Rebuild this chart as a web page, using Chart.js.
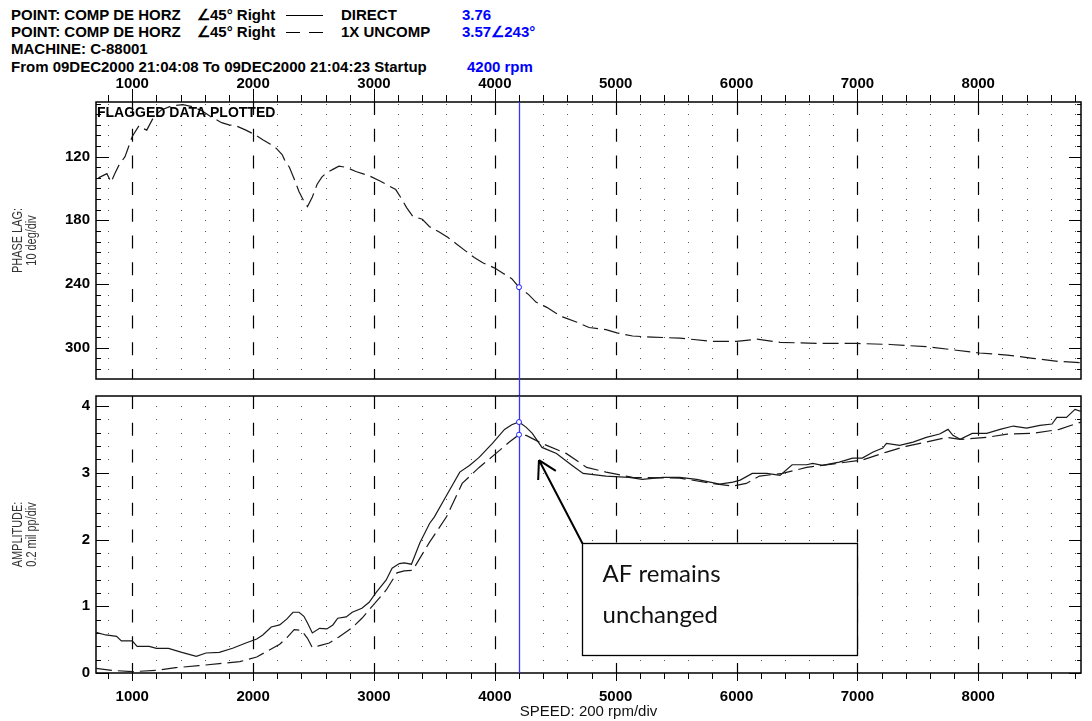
<!DOCTYPE html>
<html>
<head>
<meta charset="utf-8">
<script src="https://cdn.jsdelivr.net/npm/chart.js@4.4.1/dist/chart.umd.min.js"></script>
<style>
body{margin:0;background:#fff;width:1092px;height:721px;overflow:hidden;position:relative;font:bold 15px 'Liberation Sans',Arial,sans-serif;color:#000}
.t{position:absolute;white-space:nowrap;line-height:16px}
.blue{color:#0000ff}
.ln{position:absolute;height:0;border-top:1px solid #000}
canvas{position:absolute;left:0}
</style>
</head>
<body>
<div class="t" style="left:11px;top:7px">POINT: COMP DE HORZ</div>
<div class="t" style="left:197px;top:7px">∠45° Right</div>
<div class="ln" style="left:286px;top:15px;width:37px"></div>
<div class="t" style="left:341px;top:7px">DIRECT</div>
<div class="t blue" style="left:462px;top:7px">3.76</div>

<div class="t" style="left:11px;top:23.5px">POINT: COMP DE HORZ</div>
<div class="t" style="left:197px;top:23.5px">∠45° Right</div>
<div class="ln" style="left:286px;top:32px;width:14px"></div>
<div class="ln" style="left:309px;top:32px;width:14px"></div>
<div class="t" style="left:341px;top:23.5px">1X UNCOMP</div>
<div class="t blue" style="left:462px;top:23.5px">3.57∠243°</div>

<div class="t" style="left:11px;top:41px">MACHINE: C-88001</div>
<div class="t" style="left:11px;top:58.5px">From 09DEC2000 21:04:08 To 09DEC2000 21:04:23 Startup</div>
<div class="t blue" style="left:467px;top:58.5px">4200 rpm</div>

<canvas id="phase" width="1092" height="330" style="top:72px"></canvas>
<canvas id="amp" width="1092" height="341" style="top:380px"></canvas>

<script>
// run-up data, speed in rpm
const phaseRpm = [720,790,825,860,890,940,1000,1055,1080,1120,1180,1240,1330,1420,1500,1580,1660,1740,1800,1860,1940,2010,2080,2140,2190,2240,2260,2300,2340,2380,2420,2450,2490,2530,2570,2610,2660,2710,2770,2850,2960,3050,3100,3180,3230,3270,3320,3400,3460,3540,3610,3680,3760,3830,3900,4000,4070,4140,4200,4280,4340,4430,4500,4560,4680,4780,4920,5010,5140,5300,5530,5800,6000,6170,6360,6710,7000,7270,7410,7570,7790,8010,8240,8450,8670,8840];
const phaseLag = [140,136,144,135,128,120,101,91,93,95,82,76,72,71,73,77,83,88,90,91,95,99,104,108,112,118,123,130,141,153,162,167,158,146,139,135,132,129,130,134,138,143,146,151,160,168,176,179,186,191,196,202,209,215,220,225,230,235,243,250,257,262,267,271,276,281,283,286,289,290,291,294,294,292,295,296,296,297,298,299,302,305,307,310,313,314];

const directRpm = [700,780,870,910,1000,1040,1140,1200,1300,1410,1530,1610,1720,1830,1940,2030,2080,2150,2220,2280,2330,2380,2420,2450,2490,2550,2610,2660,2700,2770,2820,2900,2960,3020,3100,3150,3210,3250,3310,3380,3460,3500,3600,3710,3790,3870,3980,4080,4140,4200,4260,4310,4390,4510,4640,4730,4920,5110,5220,5390,5530,5670,5860,5970,6030,6130,6250,6360,6460,6580,6630,6710,6850,6960,7040,7130,7210,7240,7350,7460,7570,7680,7750,7790,7850,7950,8070,8180,8290,8400,8510,8610,8650,8730,8800,8850];
const directAmp = [0.61,0.57,0.55,0.48,0.48,0.40,0.40,0.37,0.37,0.31,0.25,0.30,0.31,0.37,0.45,0.51,0.57,0.69,0.72,0.81,0.91,0.91,0.85,0.75,0.60,0.67,0.66,0.72,0.82,0.84,0.91,0.97,1.06,1.21,1.39,1.57,1.64,1.65,1.63,1.95,2.24,2.34,2.66,3.01,3.11,3.23,3.44,3.65,3.72,3.76,3.68,3.59,3.38,3.29,3.11,2.99,2.95,2.93,2.90,2.93,2.93,2.90,2.83,2.86,2.89,2.99,2.99,2.96,3.12,3.12,3.14,3.11,3.16,3.22,3.22,3.31,3.37,3.44,3.41,3.46,3.53,3.58,3.65,3.56,3.50,3.59,3.59,3.65,3.70,3.67,3.71,3.73,3.83,3.83,3.95,3.92];

const uncompRpm = [700,830,1000,1200,1360,1550,1720,1890,2030,2130,2220,2280,2340,2400,2450,2490,2550,2630,2710,2820,2900,2990,3100,3190,3250,3320,3460,3600,3730,3870,4010,4120,4200,4260,4390,4590,4760,4920,5140,5530,5800,5970,6080,6190,6380,6580,6830,7040,7240,7410,7570,7740,7850,8070,8240,8450,8670,8850];
const uncompAmp = [0.07,0.04,0.02,0.04,0.08,0.11,0.14,0.17,0.24,0.34,0.43,0.53,0.65,0.64,0.52,0.38,0.41,0.45,0.54,0.68,0.82,1.01,1.24,1.50,1.53,1.54,1.96,2.34,2.84,3.08,3.29,3.46,3.57,3.56,3.44,3.29,3.08,3.01,2.93,2.92,2.84,2.80,2.84,2.95,2.99,3.08,3.14,3.19,3.31,3.40,3.46,3.53,3.50,3.53,3.58,3.59,3.65,3.76];

const speedTicks = [1000,2000,3000,4000,5000,6000,7000,8000];
const phaseTicks = [120,180,240,300];
const ampTicks = [0,1,2,3,4];
const cursorRpm = 4200;

// callout: box corners (rpm, amp) and arrow tip
const noteBox = [4725, 7000, 1.95, 0.27];
const noteTip = [4365, 3.19];

const tickFont = {family: "'Liberation Sans', Arial, sans-serif", size: 15, weight: 'bold'};

function pts(xs, ys) { return xs.map((x, i) => ({x: x, y: ys[i]})); }

function trace(label, data, dashed) {
  return {
    label: label, data: data, borderColor: '#1a1a1a', borderWidth: 1.2,
    borderDash: dashed ? [16, 6] : [], tension: 0, fill: false,
    pointRadius: c => (c.raw && c.raw.x === cursorRpm ? 2.5 : 0),
    pointBorderColor: '#2020ff', pointBackgroundColor: '#fff', pointBorderWidth: 1, pointHoverRadius: 0
  };
}

function speedAxis(position, height, pad, title) {
  return {
    type: 'linear', position: position, min: 700, max: 8850,
    afterBuildTicks: s => { s.ticks = speedTicks.map(v => ({value: v})); },
    afterFit: s => { s.height = height; },
    grid: {display: false, drawTicks: false}, border: {display: false},
    ticks: {font: tickFont, color: '#000', padding: pad, maxRotation: 0, autoSkip: false, callback: v => String(v)},
    title: title ? {display: true, text: title, color: '#111', padding: 0,
      font: {family: "'Liberation Sans', Arial, sans-serif", size: 15}} : {display: false}
  };
}

function valueAxis(min, max, reverse, ticks) {
  return {
    type: 'linear', min: min, max: max, reverse: reverse,
    afterBuildTicks: s => { s.ticks = ticks.map(v => ({value: v})); },
    afterFit: s => { s.width = 96; },
    grid: {display: false, drawTicks: false}, border: {display: false},
    ticks: {font: tickFont, color: '#000', padding: 6, callback: v => String(v)}
  };
}

// frame, dotted grid, 1000 rpm dashed lines, tick marks, speed cursor, side title
const frame = {
  id: 'frame',
  beforeDatasetsDraw(chart, args, o) {
    const ctx = chart.ctx, a = chart.chartArea, x = chart.scales.x, y = chart.scales.y;
    const first = Math.ceil(y.min / o.yStep - 1e-6);
    const rows = [];
    for (let i = first; i * o.yStep < y.max - 1e-6; i++) rows.push(i * o.yStep);

    ctx.save();
    ctx.fillStyle = '#555';
    rows.forEach(v => {
      const py = Math.round(y.getPixelForValue(v));
      if (py <= a.top + 1 || py >= a.bottom - 1) return;
      for (let r = 800; r < x.max; r += 200) {
        if (r % 1000 === 0) continue;
        ctx.fillRect(Math.round(x.getPixelForValue(r)), py, 1, 1);
      }
    });
    ctx.strokeStyle = '#000';
    ctx.lineWidth = 1.2;
    ctx.setLineDash([13, 13.7]);
    ctx.beginPath();
    speedTicks.forEach(r => {
      const px = Math.round(x.getPixelForValue(r)) + 0.5;
      ctx.moveTo(px, a.top); ctx.lineTo(px, a.bottom);
    });
    ctx.stroke();
    ctx.setLineDash([]);

    ctx.lineWidth = 1;
    ctx.beginPath();
    rows.forEach(v => {
      const major = o.majors.some(m => Math.abs(m - v) < 1e-6);
      const py = Math.round(y.getPixelForValue(v)) + 0.5;
      ctx.moveTo(a.left, py); ctx.lineTo(a.left + (major ? 13 : 5), py);
      ctx.moveTo(a.right, py); ctx.lineTo(a.right - (major ? 12 : 4), py);
    });
    for (let r = 800; r < x.max; r += 200) {
      const px = Math.round(x.getPixelForValue(r)) + 0.5;
      const len = r % 1000 === 0 ? o.tickMajor : o.tickMinor;
      if (o.ticksUp) { ctx.moveTo(px, a.top); ctx.lineTo(px, a.top - len); }
      else { ctx.moveTo(px, a.bottom); ctx.lineTo(px, a.bottom + len); }
    }
    ctx.stroke();

    ctx.lineWidth = 1.5;
    ctx.strokeRect(a.left, a.top, a.right - a.left, a.bottom - a.top);

    const cx = Math.round(x.getPixelForValue(cursorRpm)) + 0.5;
    ctx.strokeStyle = '#3535ff';
    ctx.lineWidth = 1.3;
    ctx.beginPath();
    ctx.moveTo(cx, a.top); ctx.lineTo(cx, a.bottom + o.cursorExtend);
    ctx.stroke();
    ctx.restore();
  },
  afterDatasetsDraw(chart, args, o) {
    const ctx = chart.ctx, a = chart.chartArea;
    ctx.save();
    if (o.flag) {
      ctx.fillStyle = '#000';
      ctx.font = "bold 14px 'Liberation Sans', Arial, sans-serif";
      ctx.textBaseline = 'alphabetic';
      ctx.fillText(o.flag, a.left + 1, a.top + 15);
    }
    // condensed two-line axis title, rotated
    ctx.fillStyle = '#333';
    ctx.font = "14px 'Liberation Sans', Arial, sans-serif";
    ctx.textAlign = 'center';
    ctx.textBaseline = 'middle';
    const cy = (a.top + a.bottom) / 2;
    o.title.forEach((line, i) => {
      ctx.save();
      ctx.translate(18.5 + i * 14, cy);
      ctx.rotate(-Math.PI / 2);
      ctx.scale(0.78, 1);
      ctx.fillText(line, 0, 0);
      ctx.restore();
    });
    ctx.restore();
  }
};

const note = {
  id: 'note',
  afterDraw(chart) {
    const ctx = chart.ctx, x = chart.scales.x, y = chart.scales.y;
    const l = Math.round(x.getPixelForValue(noteBox[0])) + 0.5, r = Math.round(x.getPixelForValue(noteBox[1])) + 0.5;
    const t = Math.round(y.getPixelForValue(noteBox[2])) + 0.5, b = Math.round(y.getPixelForValue(noteBox[3])) + 0.5;
    const tx = x.getPixelForValue(noteTip[0]), ty = y.getPixelForValue(noteTip[1]);
    ctx.save();
    ctx.fillStyle = '#fff';
    ctx.fillRect(l, t, r - l, b - t);
    ctx.strokeStyle = '#000';
    ctx.lineWidth = 1.3;
    ctx.strokeRect(l, t, r - l, b - t);
    ctx.lineWidth = 2;
    ctx.beginPath();
    ctx.moveTo(l, t); ctx.lineTo(tx, ty);
    const ang = Math.atan2(t - ty, l - tx);
    [-0.52, 0.52].forEach(d => {
      ctx.moveTo(tx, ty);
      ctx.lineTo(tx + 20 * Math.cos(ang + d), ty + 20 * Math.sin(ang + d));
    });
    ctx.stroke();
    ctx.fillStyle = '#111';
    ctx.font = "24px Lato, 'Open Sans', sans-serif";
    ctx.fillText('AF remains', l + 20, t + 38);
    ctx.fillText('unchanged', l + 20, t + 79);
    ctx.restore();
  }
};

new Chart(document.getElementById('phase'), {
  type: 'line',
  data: {datasets: [trace('1X UNCOMP', pts(phaseRpm, phaseLag), true)]},
  options: {
    responsive: false, animation: false, devicePixelRatio: 1,
    layout: {padding: {left: 0, right: 11, top: 0, bottom: 23}},
    plugins: {
      legend: {display: false}, tooltip: {enabled: false},
      frame: {yStep: 10, majors: phaseTicks, ticksUp: true, tickMajor: 13, tickMinor: 7,
              cursorExtend: 17, flag: 'FLAGGED DATA PLOTTED', title: ['PHASE LAG:', '10 deg/div']}
    },
    scales: {
      x: speedAxis('top', 30, 9, null),
      y: valueAxis(68.5, 329.5, true, phaseTicks)
    }
  },
  plugins: [frame]
});

new Chart(document.getElementById('amp'), {
  type: 'line',
  data: {datasets: [
    trace('DIRECT', pts(directRpm, directAmp), false),
    trace('1X UNCOMP', pts(uncompRpm, uncompAmp), true)
  ]},
  options: {
    responsive: false, animation: false, devicePixelRatio: 1,
    layout: {padding: {left: 0, right: 11, top: 16, bottom: 0}},
    plugins: {
      legend: {display: false}, tooltip: {enabled: false},
      frame: {yStep: 0.2, majors: ampTicks, ticksUp: false, tickMajor: 8, tickMinor: 6,
              cursorExtend: 0, flag: null, title: ['AMPLITUDE:', '0.2 mil pp/div']}
    },
    scales: {
      x: speedAxis('bottom', 48, 15, 'SPEED: 200 rpm/div'),
      y: valueAxis(0, 4.15, false, ampTicks)
    }
  },
  plugins: [frame, note]
});
</script>
</body>
</html>
